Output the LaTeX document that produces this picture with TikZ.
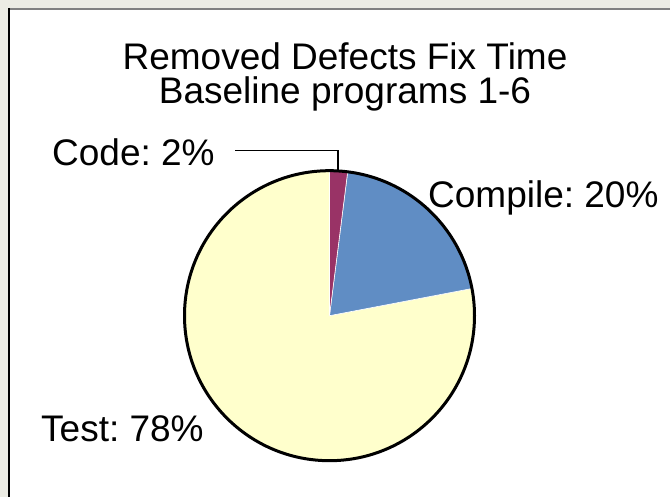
\documentclass[tikz,border=0pt]{standalone}
\usepackage{fontspec}
\setmainfont{Liberation Sans}
\usetikzlibrary{calc}
\frenchspacing
\definecolor{bgout}{HTML}{ECECE4}
\definecolor{codecol}{HTML}{993366}
\definecolor{compcol}{HTML}{608DC4}
\definecolor{testcol}{HTML}{FFFFCC}
\definecolor{frametop}{HTML}{808080}
\tikzset{
  lbl/.style={inner sep=0pt, font=\fontsize{37}{34}\selectfont, text=black},
  slice/.style={draw=white, line width=0.6pt},
  leader/.style={draw=black, line width=1.5pt},
}
\begin{document}
\begin{tikzpicture}[x=1pt,y=1pt]
\useasboundingbox (0,0) rectangle (670,497);
\fill[bgout] (0,0) rectangle (670,497);
\fill[white] (9,-5) rectangle (680,488);
\draw[frametop, line width=2pt] (8,488) -- (680,488);
\draw[black, line width=2pt] (9,489) -- (9,-5);
% pie
\coordinate (c) at (329.5,181.3);
\fill[testcol, slice] (c) -- ++(90:145) arc[start angle=90, end angle=370.8, radius=145] -- cycle;
\fill[compcol, slice] (c) -- ++(10.8:145) arc[start angle=10.8, end angle=82.8, radius=145] -- cycle;
\fill[codecol, slice] (c) -- ++(82.8:145) arc[start angle=82.8, end angle=90, radius=145] -- cycle;
\draw[black, line width=3pt] (c) circle[radius=145];
% texts
\node[lbl, anchor=base] (title1) at (345,427) {Removed Defects Fix Time};
\node[lbl, anchor=base] (title2) at (345,393) {Baseline programs 1-6};
\node[lbl, anchor=base west] (code) at (52,331) {Code: 2\%};
\node[lbl, anchor=base west] (compile) at (428,289) {Compile: 20\%};
\node[lbl, anchor=base west] (test) at (41,55) {Test: 78\%};
% leader
\coordinate (lstart) at (235,346.3);
\coordinate (lcorner) at (338,346.3);
\coordinate (ltip) at ($(c)+(86.4:145)$);
\draw[leader] (lstart) -- (lcorner) -- (lcorner |- ltip);
\end{tikzpicture}
\end{document}
